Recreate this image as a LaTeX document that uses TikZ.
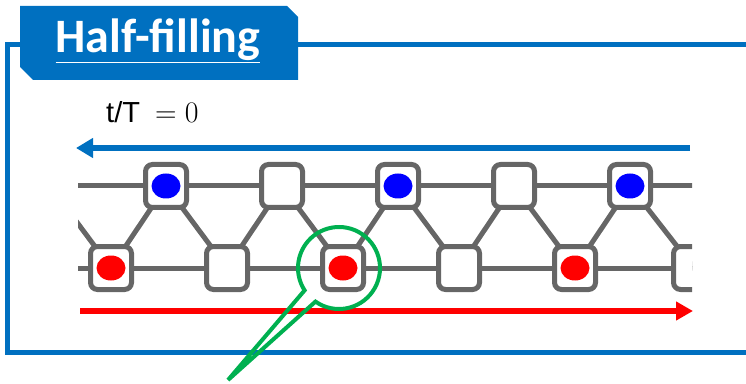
\documentclass[tikz,border=0pt]{standalone}
\usepackage{fontspec}
\setmainfont{Liberation Sans}
\newfontfamily\titlefont{Carlito}
\usetikzlibrary{arrows.meta,shapes.geometric,calc}
\definecolor{frameblue}{HTML}{0070C0}
\definecolor{latgray}{HTML}{666666}
\definecolor{callgreen}{HTML}{00B050}
\definecolor{spinblue}{HTML}{0000FF}
\definecolor{spinred}{HTML}{FF0000}
\begin{document}
\begin{tikzpicture}[x=1pt,y=1pt,
  site/.style={draw=latgray,line width=5pt,fill=white,rounded corners=7pt,
    minimum width=41pt,minimum height=43pt,inner sep=0pt},
  bond/.style={draw=latgray,line width=5pt},
  upspin/.style={ellipse,fill=spinblue,minimum width=29pt,minimum height=25pt,inner sep=0pt},
  dnspin/.style={ellipse,fill=spinred,minimum width=29pt,minimum height=25pt,inner sep=0pt},
  framepen/.style={draw=frameblue,line width=5pt},
]
\useasboundingbox (0,0) rectangle (746,383);

% outer frame
\draw[framepen] (20,338) -- (7,338) -- (7,31) -- (760,31);
\draw[framepen] (298,338) -- (760,338);

% title tab
\fill[frameblue] (20,377) -- (287,377) -- (298,366) -- (298,303) -- (33,303) -- (20,316) -- cycle;
\node[text=white,font=\titlefont\bfseries\fontsize{48}{48}\selectfont] (title) at (158,342)
  {\underline{Half-filling}};

% time label
\node[anchor=west,font=\fontsize{29}{29}\selectfont,inner sep=0pt] (time) at (106,271)
  {t/T\hspace{15pt}\scalebox{1.2}{$=0$}};

% direction arrows
\coordinate (ba1) at (690,235);
\coordinate (ba2) at (76,235);
\draw[frameblue,line width=6pt,-{Triangle[length=17pt,width=19pt]}] (ba1) -- (ba2);
\coordinate (ra1) at (80,72);
\coordinate (ra2) at (693,72);
\draw[spinred,line width=6pt,-{Triangle[length=17pt,width=18pt]}] (ra1) -- (ra2);

% ladder lattice
\begin{scope}
\clip (78,0) rectangle (692,383);
\foreach \i/\x in {0/50,1/166,2/282,3/398,4/514,5/630,6/746}
  \coordinate (t\i) at (\x,197);
\foreach \i/\x in {0/-5,1/111,2/227,3/343,4/459,5/575,6/694}
  \coordinate (b\i) at (\x,115);
\draw[bond] (t0) -- (t6);
\draw[bond] (b0) -- (b6);
\foreach \i [evaluate=\i as \j using int(\i+1)] in {0,...,5}{
  \draw[bond] (t\i) -- (b\j);
  \draw[bond] (b\j) -- (t\j);
}
\foreach \i in {0,...,6}{
  \node[site] (T\i) at (t\i) {};
  \node[site] (B\i) at (b\i) {};
}
\node[upspin] (u1) at (T1) {};
\node[upspin] (u3) at (T3) {};
\node[upspin] (u5) at (T5) {};
\node[dnspin] (d1) at (B1) {};
\node[dnspin] (d3) at (B3) {};
\node[dnspin] (d5) at (B5) {};
\end{scope}

% magnifier callout
\coordinate (lens) at (339,115);
\coordinate (tip) at (228,3);
\draw[callgreen,line width=4pt,line join=miter]
  ($(lens)+(235:41)$) arc[start angle=235,end angle=573,radius=41] -- (tip) -- cycle;
\end{tikzpicture}
\end{document}
